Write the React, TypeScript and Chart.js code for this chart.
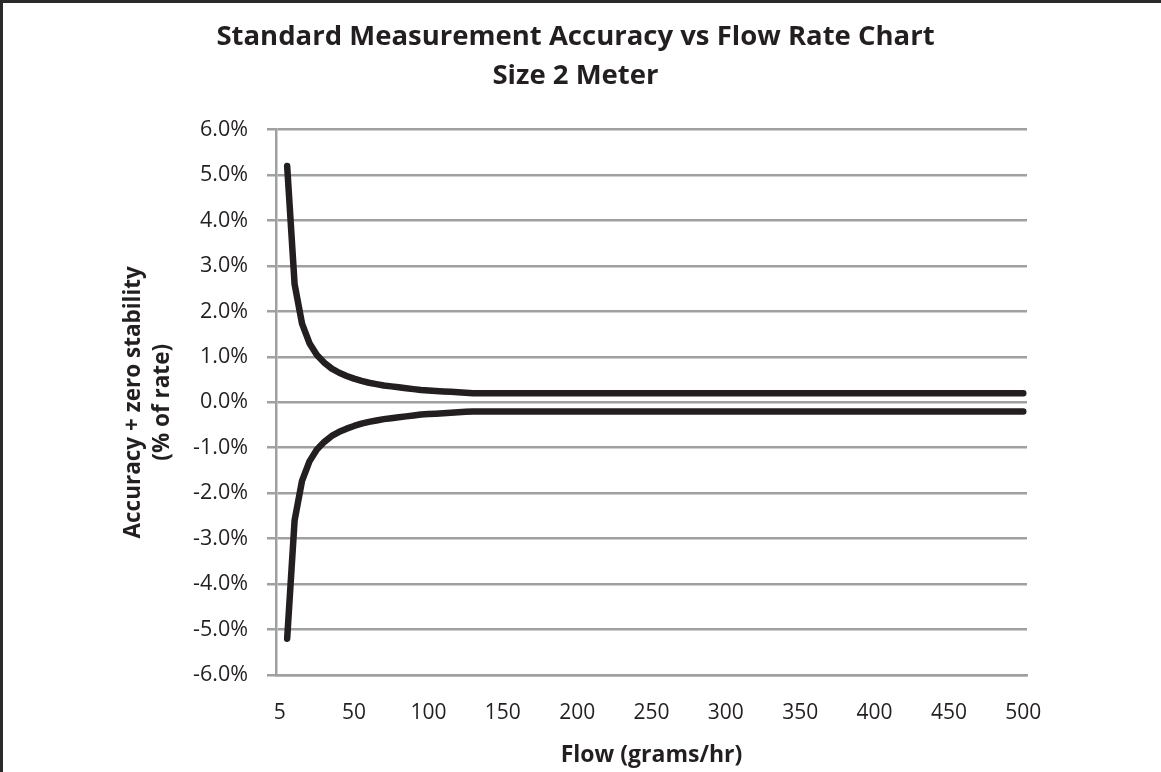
import { useEffect, useRef } from "react";
import { Chart, registerables } from "chart.js";

Chart.register(...registerables);

// Flow categories (grams/hr); the first slot carries no measurement
const FLOW_CATEGORIES = [
  0, 5, 10, 15, 20, 25, 30, 35, 40, 45, 50, 55, 60, 65, 70, 75, 80, 85, 90, 95,
  100, 105, 110, 115, 120, 125, 130, 135, 140, 145, 150, 155, 160, 165, 170, 175,
  180, 185, 190, 195, 200, 205, 210, 215, 220, 225, 230, 235, 240, 245, 250, 255,
  260, 265, 270, 275, 280, 285, 290, 295, 300, 305, 310, 315, 320, 325, 330, 335,
  340, 345, 350, 355, 360, 365, 370, 375, 380, 385, 390, 395, 400, 405, 410, 415,
  420, 425, 430, 435, 440, 445, 450, 455, 460, 465, 470, 475, 480, 485, 490, 495,
  500,
];

const X_TICK_LABELS = ["5", "50", "100", "150", "200", "250", "300", "350", "400", "450", "500"];
const X_LABEL_EVERY = 10;

// Accuracy + zero stability, % of rate
const UPPER_LIMIT = [
  null, 5.2, 2.6, 1.73, 1.3, 1.04, 0.87, 0.74, 0.65, 0.58, 0.52, 0.47, 0.43, 0.4, 0.37,
  0.35, 0.33, 0.31, 0.29, 0.27, 0.26, 0.25, 0.24, 0.23, 0.22, 0.21, 0.2, 0.2, 0.2, 0.2,
  0.2, 0.2, 0.2, 0.2, 0.2, 0.2, 0.2, 0.2, 0.2, 0.2, 0.2, 0.2, 0.2, 0.2, 0.2, 0.2, 0.2,
  0.2, 0.2, 0.2, 0.2, 0.2, 0.2, 0.2, 0.2, 0.2, 0.2, 0.2, 0.2, 0.2, 0.2, 0.2, 0.2, 0.2,
  0.2, 0.2, 0.2, 0.2, 0.2, 0.2, 0.2, 0.2, 0.2, 0.2, 0.2, 0.2, 0.2, 0.2, 0.2, 0.2, 0.2,
  0.2, 0.2, 0.2, 0.2, 0.2, 0.2, 0.2, 0.2, 0.2, 0.2, 0.2, 0.2, 0.2, 0.2, 0.2, 0.2, 0.2,
  0.2, 0.2, 0.2,
];

const LOWER_LIMIT = [
  null, -5.2, -2.6, -1.73, -1.3, -1.04, -0.87, -0.74, -0.65, -0.58, -0.52, -0.47, -0.43,
  -0.4, -0.37, -0.35, -0.33, -0.31, -0.29, -0.27, -0.26, -0.25, -0.24, -0.23, -0.22,
  -0.21, -0.2, -0.2, -0.2, -0.2, -0.2, -0.2, -0.2, -0.2, -0.2, -0.2, -0.2, -0.2, -0.2,
  -0.2, -0.2, -0.2, -0.2, -0.2, -0.2, -0.2, -0.2, -0.2, -0.2, -0.2, -0.2, -0.2, -0.2,
  -0.2, -0.2, -0.2, -0.2, -0.2, -0.2, -0.2, -0.2, -0.2, -0.2, -0.2, -0.2, -0.2, -0.2,
  -0.2, -0.2, -0.2, -0.2, -0.2, -0.2, -0.2, -0.2, -0.2, -0.2, -0.2, -0.2, -0.2, -0.2,
  -0.2, -0.2, -0.2, -0.2, -0.2, -0.2, -0.2, -0.2, -0.2, -0.2, -0.2, -0.2, -0.2, -0.2,
  -0.2, -0.2, -0.2, -0.2, -0.2, -0.2,
];

const Y_MIN = -6;
const Y_MAX = 6;
const Y_STEP = 1;

const TITLE_LINES = ["Standard Measurement Accuracy vs Flow Rate Chart", "Size 2 Meter"];
const X_TITLE = "Flow (grams/hr)";
const Y_TITLE_LINES = ["Accuracy + zero stability", "(% of rate)"];

const W = 1161;
const H = 772;
const FONT = "'Open Sans', 'Liberation Sans', sans-serif";
const INK = "#231f20";
const GRID = "#a0a0a2";

const framePlugin = {
  id: "frame",
  beforeDraw(chart: any) {
    const { ctx } = chart;
    ctx.save();
    ctx.fillStyle = "#ffffff";
    ctx.fillRect(0, 0, chart.width, chart.height);
    ctx.strokeStyle = "#2b2a2b";
    ctx.lineWidth = 3;
    ctx.beginPath();
    ctx.moveTo(1.5, chart.height);
    ctx.lineTo(1.5, 1.5);
    ctx.lineTo(chart.width, 1.5);
    ctx.stroke();
    ctx.restore();
  },
};

export default function App() {
  const canvasRef = useRef<HTMLCanvasElement | null>(null);

  useEffect(() => {
    const canvas = canvasRef.current;
    if (!canvas) return;
    const lineStyle = {
      borderColor: INK,
      borderWidth: 6.5,
      borderCapStyle: "round" as const,
      borderJoinStyle: "round" as const,
      pointRadius: 0,
      tension: 0,
      fill: false,
      yAxisID: "y",
    };
    const chart = new Chart(canvas, {
      type: "line",
      data: {
        labels: FLOW_CATEGORIES,
        datasets: [
          { label: "Upper", data: UPPER_LIMIT, ...lineStyle },
          { label: "Lower", data: LOWER_LIMIT, ...lineStyle },
        ],
      },
      plugins: [framePlugin],
      options: {
        responsive: false,
        animation: false,
        devicePixelRatio: 1,
        layout: { padding: { left: 0, top: 0, right: 10, bottom: 0 } },
        plugins: {
          legend: { display: false },
          tooltip: { enabled: false },
          title: {
            display: true,
            text: TITLE_LINES,
            color: INK,
            font: { family: FONT, size: 27.5, weight: "bold", lineHeight: 1.42 },
            padding: { top: 18, bottom: 33.5 },
          },
        },
        scales: {
          x: {
            type: "category",
            offset: true,
            grid: { display: false, drawTicks: false },
            border: { display: true, color: GRID, width: 2.5 },
            ticks: {
              autoSkip: false,
              maxRotation: 0,
              minRotation: 0,
              padding: 25,
              color: INK,
              font: { family: FONT, size: 21, lineHeight: 1.2 },
              callback: (_v: any, index: number) =>
                index % X_LABEL_EVERY === 0 ? X_TICK_LABELS[index / X_LABEL_EVERY] : "",
            },
            title: {
              display: true,
              text: X_TITLE,
              color: INK,
              font: { family: FONT, size: 23, weight: "bold", lineHeight: 1.2 },
              padding: { top: 0, bottom: 3 },
            },
            afterFit: (s: any) => {
              s.height = 97;
            },
          },
          y: {
            position: "left",
            min: Y_MIN,
            max: Y_MAX,
            grid: { color: GRID, lineWidth: 2.5, drawTicks: true, tickLength: 9 },
            border: { display: true, color: GRID, width: 2.5 },
            ticks: {
              stepSize: Y_STEP,
              padding: 19,
              color: INK,
              font: { family: FONT, size: 21.5, lineHeight: 1.2 },
              callback: (v: any) => `${Number(v).toFixed(1)}%`,
            },
            title: {
              display: true,
              text: Y_TITLE_LINES,
              color: INK,
              font: { family: FONT, size: 22.5, weight: "bold", lineHeight: 1.3 },
              padding: { top: 118.5, bottom: 0 },
            },
            afterFit: (s: any) => {
              s.width = 276;
            },
          },
          rightSpace: {
            type: "linear",
            position: "right",
            display: true,
            grid: { display: false, drawTicks: false },
            border: { display: false },
            ticks: { display: false },
            afterFit: (s: any) => {
              s.width = 124;
            },
          },
        },
      },
    });
    return () => chart.destroy();
  }, []);

  return (
    <div style={{ position: "fixed", left: 0, top: 0, width: W, height: H, background: "#fff" }}>
      <canvas ref={canvasRef} width={W} height={H} style={{ width: W, height: H, display: "block" }} />
    </div>
  );
}
